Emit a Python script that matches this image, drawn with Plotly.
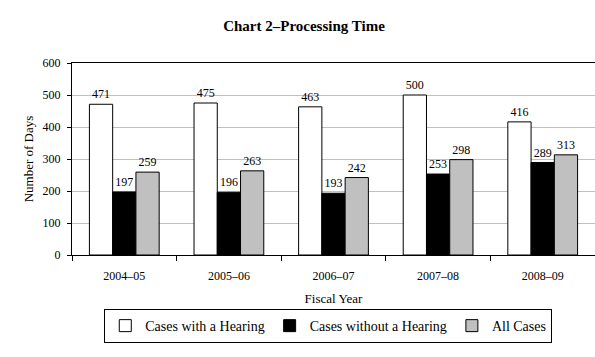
import plotly.graph_objects as go

years = ["2004–05", "2005–06", "2006–07", "2007–08", "2008–09"]
with_hearing = [471, 475, 463, 500, 416]
without_hearing = [197, 196, 193, 253, 289]
all_cases = [259, 263, 242, 298, 313]

series = [
    ("Cases with a Hearing", with_hearing, "#ffffff"),
    ("Cases without a Hearing", without_hearing, "#000000"),
    ("All Cases", all_cases, "#c0c0c0"),
]

font = "Liberation Serif, Times New Roman, serif"
fig = go.Figure()
for name, vals, color in series:
    fig.add_trace(go.Bar(
        x=years, y=vals, name=name,
        marker=dict(color=color, line=dict(color="#000000", width=1)),
        text=[str(v) for v in vals], textposition="outside",
        textfont=dict(family=font, size=12, color="#000000"),
        cliponaxis=False,
    ))

fig.update_layout(
    width=595, height=357,
    margin=dict(l=72, r=0, t=63, b=102, autoexpand=False),
    paper_bgcolor="#ffffff", plot_bgcolor="#ffffff",
    barmode="group", bargap=0.333, bargroupgap=0,
    uniformtext=dict(mode="show", minsize=12),
    font=dict(family=font, size=12, color="#000000"),
    title=dict(text="<b>Chart 2–Processing Time</b>", x=304 / 595, xanchor="center",
               y=1 - 26 / 357, yanchor="middle", font=dict(family=font, size=15)),
    xaxis=dict(title=dict(text="Fiscal Year", font=dict(size=13), standoff=11),
               showline=True, linecolor="#000000", linewidth=1, mirror=True,
               ticks="outside", ticklen=5, tickcolor="#000000",
               tickson="boundaries", tickfont=dict(size=12), ticklabelstandoff=10),
    yaxis=dict(title=dict(text="Number of Days", font=dict(size=13), standoff=6),
               range=[0, 600], dtick=100, showline=True, linecolor="#000000",
               linewidth=1, mirror=True, ticks="outside", ticklen=4,
               tickcolor="#000000", gridcolor="#c0c0c0", gridwidth=1,
               zeroline=False, tickfont=dict(size=12), ticklabelstandoff=4),
    legend=dict(orientation="h", x=0.49, xanchor="center", y=-0.37, yanchor="middle",
                bordercolor="#000000", borderwidth=1, font=dict(size=14),
                itemwidth=30, traceorder="normal"),
)

fig.write_html("out.html", config={"displayModeBar": False},
               post_script="document.body.style.margin='0';")
